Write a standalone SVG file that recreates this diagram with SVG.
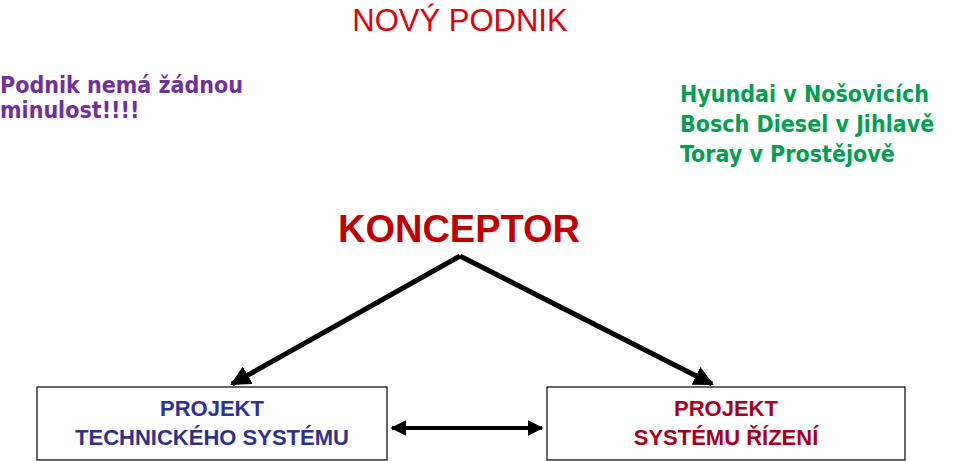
<svg xmlns="http://www.w3.org/2000/svg" width="960" height="461" viewBox="0 0 960 461">
<style>
.t{font-family:"Liberation Sans",Arial,sans-serif;font-weight:bold}
.c{font-family:"DejaVu Sans Condensed","DejaVu Sans",sans-serif}
.box{fill:#fff;stroke:#000;stroke-width:1.2}
.ln{stroke:#000;stroke-width:5;fill:none}
</style>
<defs>
<marker id="ah" viewBox="0 0 10 10" refX="9" refY="5" markerWidth="4" markerHeight="4" orient="auto-start-reverse" markerUnits="strokeWidth"><path d="M0,0L10,5L0,10z" fill="#000"/></marker>
</defs>
<rect width="960" height="461" fill="#fff"/>
<text class="t" x="460" y="31" text-anchor="middle" font-size="31" fill="#e0000a" font-weight="normal" style="font-weight:normal">NOVÝ PODNIK</text>
<text class="c" x="0" y="93" font-size="23" fill="#7030a0" font-weight="bold"><tspan x="0">Podnik nemá žádnou</tspan><tspan x="0" dy="25">minulost!!!!</tspan></text>
<text class="c" x="680" y="102" font-size="23" fill="#00a050" font-weight="bold"><tspan x="680">Hyundai v Nošovicích</tspan><tspan x="680" dy="30">Bosch Diesel v Jihlavě</tspan><tspan x="680" dy="30">Toray v Prostějově</tspan></text>
<text class="t" x="459" y="242" text-anchor="middle" font-size="38" fill="#c00000">KONCEPTOR</text>
<g id="connectors">
<path class="ln" d="M460,256L232,384" marker-end="url(#ah)"/>
<path class="ln" d="M460,256L712,384" marker-end="url(#ah)"/>
<path class="ln" d="M392,428L542,428" marker-start="url(#ah)" marker-end="url(#ah)" style="stroke-width:4"/>
</g>
<g id="n1"><rect class="box" x="37" y="387" width="350" height="73"/>
<text class="t" x="212" y="416" text-anchor="middle" font-size="22" fill="#2e3192"><tspan x="212">PROJEKT</tspan><tspan x="212" dy="29">TECHNICKÉHO SYSTÉMU</tspan></text></g>
<g id="n2"><rect class="box" x="547" y="387" width="358" height="73"/>
<text class="t" x="726" y="416" text-anchor="middle" font-size="22" fill="#a50021"><tspan x="726">PROJEKT</tspan><tspan x="726" dy="29">SYSTÉMU ŘÍZENÍ</tspan></text></g>
</svg>
